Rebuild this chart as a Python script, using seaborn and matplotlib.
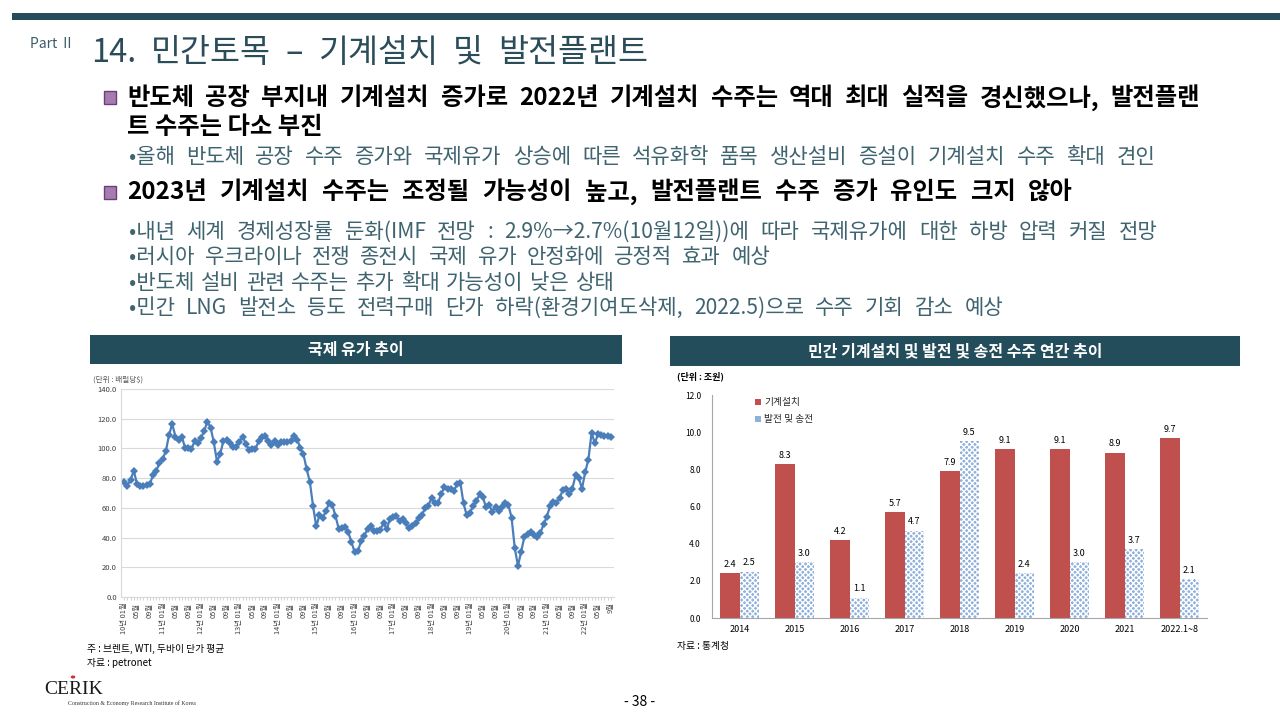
import pandas as pd
import matplotlib.pyplot as plt
import matplotlib.patches as mpatches
import seaborn as sns

sns.set_theme(style='white')
plt.rcParams['font.family'] = ['Noto Sans CJK KR', 'DejaVu Sans']

# ---- data: monthly oil price (Brent/WTI/Dubai avg), 2010.01 ~ 2022.09
oil_price = [
    77.5, 75, 79, 85, 76, 75, 74.5, 75.5, 76, 82, 85, 90,            # 2010
    93, 98, 109, 116.5, 108, 106, 108, 100.5, 100.5, 99.5, 105, 103.5,  # 2011
    107, 112, 118, 114, 104, 91, 96.5, 105, 106, 103.5, 101, 101,    # 2012
    104.5, 108, 103, 99, 99.5, 99.5, 105, 108, 108.5, 105, 102, 105,  # 2013
    102, 104.5, 104, 104.5, 105, 108.5, 106, 100.5, 96, 86, 77.5, 61,  # 2014
    47.5, 55, 53, 58, 63, 62, 54.5, 46, 46.5, 47, 43.5, 37,          # 2015
    30, 31, 37.5, 41, 46, 48, 44.5, 44.5, 45, 50, 45.5, 52.5,        # 2016
    54, 54.5, 51, 52.5, 49.5, 46.5, 48, 49.5, 53, 55, 60, 61.5,      # 2017
    66.5, 63, 63.5, 69, 74, 72.5, 73, 71.5, 76, 77, 63, 55,          # 2018
    56.5, 61.5, 64.5, 69, 67.5, 60.5, 62, 57.5, 60.5, 58, 60.5, 63.5,  # 2019
    62, 53.5, 33, 21, 30.5, 40.5, 42.5, 44, 41.5, 40.5, 43, 49,      # 2020
    54, 61, 64, 63.5, 66.5, 72, 73, 69.5, 73, 82, 80, 73,            # 2021
    84, 92.5, 110.5, 103.5, 109.5, 109, 108.5, 108.5, 108,           # 2022
]
months = pd.period_range('2010-01', '2022-09', freq='M')
month_ticks = list(range(0, len(months), 4))
month_labels = [f"{p.year % 100}년 01월" if p.month == 1 else f"{p.month:02d}월"
                for p in months[month_ticks]]
month_labels[-1] = '9월'

# ---- data: order amounts (trillion won)
years = ['2014', '2015', '2016', '2017', '2018', '2019', '2020', '2021', '2022.1~8']
machine = [2.4, 8.3, 4.2, 5.7, 7.9, 9.1, 9.1, 8.9, 9.7]
power = [2.5, 3.0, 1.1, 4.7, 9.5, 2.4, 3.0, 3.7, 2.1]

W, H = 1280, 720
fig = plt.figure(figsize=(12.8, 7.2), dpi=100)
fig.patch.set_facecolor('white')
renderer = fig.canvas.get_renderer()


def fx(px):
    return px / W


def fy(py):
    return 1 - py / H


def box(x0, y0, x1, y1, color, **kw):
    fig.patches.append(mpatches.Rectangle((fx(x0), fy(y1)), fx(x1) - fx(x0), fy(y0) - fy(y1),
                                          transform=fig.transFigure, facecolor=color,
                                          edgecolor=kw.pop('ec', 'none'), **kw))


def spaced_line(x0, x1, y, text, **kw):
    # the slide font is tracked wider than Noto, so spread words to the measured line end
    words = [w for w in text.split(' ') if w]
    objs = [fig.text(0, fy(y), w, va='center', **kw) for w in words]
    widths = [o.get_window_extent(renderer).width for o in objs]
    gap = (x1 - x0 - sum(widths)) / max(len(words) - 1, 1)
    x = x0
    for o, w in zip(objs, widths):
        o.set_x(fx(x))
        x += w + gap


teal = '#244d5b'
sub_col = '#3f6470'

# header
box(12, 13, 1280, 20, teal)
fig.text(fx(30), fy(44), 'Part Ⅱ', fontsize=10, color='#3a5c68', va='center')
spaced_line(91, 648, 53, '14.  민간토목 – 기계설치 및 발전플랜트', fontsize=23.5, color='#2b4d5a')

# bullets
box(104, 91, 116, 104, '#a57bb0', ec='#6a3e78', lw=1)
box(104, 186, 116, 199, '#a57bb0', ec='#6a3e78', lw=1)
main_kw = dict(fontsize=17.5, fontweight='bold', color='black')
spaced_line(127, 1200, 98, '반도체 공장 부지내 기계설치 증가로 2022년 기계설치 수주는 역대 최대 실적을 경신했으나, 발전플랜',
            **main_kw)
fig.text(fx(127), fy(127), '트 수주는 다소 부진', va='center', **main_kw)
sub_kw = dict(fontsize=15.2, color=sub_col)
spaced_line(129, 1155, 157, '•올해 반도체 공장 수주 증가와 국제유가 상승에 따른 석유화학 품목 생산설비 증설이 기계설치 수주 확대 견인',
            **sub_kw)
spaced_line(127, 1073, 192, '2023년 기계설치 수주는 조정될 가능성이 높고, 발전플랜트 수주 증가 유인도 크지 않아',
            **main_kw)
sub_lines = [
    '•내년 세계 경제성장률  둔화(IMF 전망 : 2.9%→2.7%(10월12일))에 따라 국제유가에 대한 하방 압력 커질 전망',
    '•러시아 우크라이나 전쟁 종전시 국제 유가 안정화에 긍정적 효과 예상',
    '•반도체 설비 관련 수주는 추가 확대 가능성이 낮은 상태',
    '•민간 LNG 발전소 등도 전력구매 단가 하락(환경기여도삭제, 2022.5)으로 수주 기회 감소 예상',
]
sub_ends = [1158, 770, 614, 1003]
for i, (line, x_end) in enumerate(zip(sub_lines, sub_ends)):
    spaced_line(129, x_end, 232 + i * 25.3, line, **sub_kw)

# chart title boxes
box(90, 335, 622, 364, teal)
fig.text(fx(356), fy(350), '국제 유가 추이', fontsize=11.5, fontweight='bold', color='white',
         ha='center', va='center')
box(670, 336, 1240, 366, teal)
fig.text(fx(955), fy(351), '민간 기계설치 및 발전 및 송전 수주 연간 추이', fontsize=11.5,
         fontweight='bold', color='white', ha='center', va='center')

# ---- left chart: oil price
ax1 = fig.add_axes([fx(121), fy(597), fx(614) - fx(121), fy(389) - fy(597)])
sns.lineplot(x=list(range(len(oil_price))), y=oil_price, ax=ax1, color='#4a7ebb',
             linewidth=1.6, marker='D', markersize=3.6, markeredgewidth=0)
ax1.set_xlim(-1, len(oil_price))
ax1.set_ylim(0, 140)
ax1.set_yticks(range(0, 141, 20))
ax1.set_yticklabels([f'{v:.1f}' for v in range(0, 141, 20)], fontsize=5.5, color='#404040')
ax1.set_xticks(month_ticks)
ax1.set_xticklabels(month_labels, rotation=90, fontsize=5.3, color='#404040')
ax1.set_xticks(range(len(oil_price)), minor=True)
ax1.tick_params(axis='x', which='both', direction='out', length=2, width=0.5,
                color='#bfbfbf', bottom=True, pad=2)
ax1.tick_params(axis='y', length=0, pad=3)
ax1.grid(axis='y', color='#d9d9d9', linewidth=0.8)
ax1.set_axisbelow(True)
for s in ['top', 'right']:
    ax1.spines[s].set_visible(False)
for s in ['left', 'bottom']:
    ax1.spines[s].set_color('#d9d9d9')
    ax1.spines[s].set_linewidth(0.8)
fig.text(fx(93), fy(380), '(단위 : 배럴당$)', fontsize=5.5, color='#595959', va='center')
fig.text(fx(87), fy(649), '주 : 브렌트, WTI, 두바이 단가 평균', fontsize=7, color='black', va='center')
fig.text(fx(87), fy(663), '자료 : petronet', fontsize=7, color='black', va='center')

# ---- right chart: orders
orders = pd.DataFrame({
    'year': years * 2,
    'value': machine + power,
    'type': ['기계설치'] * len(years) + ['발전 및 송전'] * len(years),
})
ax2 = fig.add_axes([fx(712), fy(618), fx(1207) - fx(712), fy(395) - fy(618)])
sns.barplot(data=orders, x='year', y='value', hue='type', ax=ax2,
            palette=['#c0504d', '#8fb0db'], width=0.7, saturation=1, linewidth=0)
for patch in ax2.containers[1]:
    patch.set_hatch('xxxxxx')
    patch.set_edgecolor('white')
    patch.set_linewidth(0)
for cont in ax2.containers:
    ax2.bar_label(cont, fmt='%.1f', fontsize=6.5, padding=3, color='black')
ax2.set_ylim(0, 12)
ax2.set_xlim(-0.5, len(years) - 0.5)
ax2.set_yticks(range(0, 13, 2))
ax2.set_yticklabels([f'{v:.1f}' for v in range(0, 13, 2)], fontsize=6, color='black')
ax2.tick_params(axis='x', labelsize=6.5, length=0, pad=5, colors='black')
ax2.tick_params(axis='y', length=0, pad=8)
ax2.set_xlabel('')
ax2.set_ylabel('')
for s in ['top', 'right']:
    ax2.spines[s].set_visible(False)
for s in ['left', 'bottom']:
    ax2.spines[s].set_color('#a6a6a6')
    ax2.spines[s].set_linewidth(0.8)
ax2.legend(loc='upper left', bbox_to_anchor=(0.07, 1.03), frameon=False, fontsize=7,
           handlelength=0.6, handleheight=0.6, handletextpad=0.3, labelspacing=0.75)
fig.text(fx(677), fy(376), '(단위 : 조원)', fontsize=6.5, fontweight='bold', color='black', va='center')
fig.text(fx(677), fy(646), '자료 : 통계청', fontsize=7, color='black', va='center')

# footer
fig.text(fx(44), fy(690), 'CERIK', fontsize=14, family='Liberation Serif', color='#1a1a1a', va='center')
fig.patches.append(mpatches.Circle((fx(73), fy(677)), 0.0012, transform=fig.transFigure,
                                   color='#d03030'))
fig.text(fx(68), fy(703), 'Construction & Economy Research Institute of Korea', fontsize=4.2,
         family='Liberation Serif', color='#333333', va='center')
fig.text(fx(640), fy(702), '- 38 -', fontsize=10, color='black', ha='center', va='center')

fig.savefig('out.png', dpi=100)
